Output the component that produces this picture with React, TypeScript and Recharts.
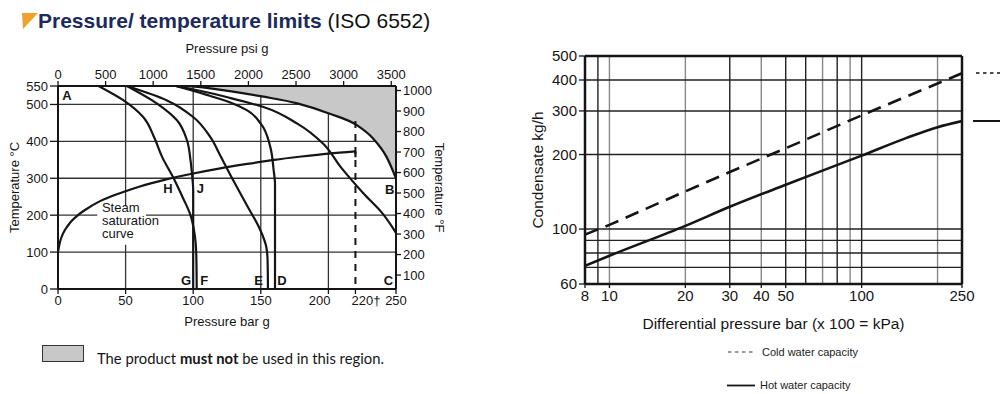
import React from 'react';
import {
  ComposedChart,
  LineChart,
  Line,
  Area,
  XAxis,
  YAxis,
  CartesianGrid,
  ReferenceLine,
  ReferenceDot,
  ReferenceArea,
  Label,
} from 'recharts';

// ---- left chart: pressure (bar g) vs temperature (°C) ----
const barTicks = [0, 50, 100, 150, 200, 220, 250];
const psiTicks = [0, 500, 1000, 1500, 2000, 2500, 3000, 3500];
const psiSpan = [{ psi: 0, c: 550 }, { psi: 3550, c: 550 }];
const degCTicks = [0, 100, 200, 300, 400, 500, 550];
const degFTicks = [100, 200, 300, 400, 500, 600, 700, 800, 900, 1000];
const barGrid = [50, 100, 150, 200];
const degCGrid = [100, 200, 300, 400, 500];

const saturation = [
  { bar: 0, c: 100 }, { bar: 1, c: 120 }, { bar: 2, c: 134 }, { bar: 3, c: 144 },
  { bar: 5, c: 159 }, { bar: 7, c: 170 }, { bar: 10, c: 184 }, { bar: 15, c: 201 },
  { bar: 20, c: 214 }, { bar: 30, c: 236 }, { bar: 40, c: 252 }, { bar: 50, c: 265 },
  { bar: 60, c: 277 }, { bar: 80, c: 297 }, { bar: 100, c: 313 }, { bar: 120, c: 327 },
  { bar: 140, c: 339 }, { bar: 160, c: 350 }, { bar: 180, c: 359 }, { bar: 200, c: 367 },
  { bar: 220, c: 373 },
];
const saturationHook = [{ bar: 220, c: 373 }, { bar: 220, c: 357 }];

const curveH = [
  { bar: 30, c: 550 }, { bar: 48.5, c: 511 }, { bar: 63, c: 466 }, { bar: 71, c: 412 },
  { bar: 77, c: 358 }, { bar: 85.5, c: 300 }, { bar: 92, c: 250 }, { bar: 98, c: 200 },
  { bar: 101, c: 150 }, { bar: 102.3, c: 90 }, { bar: 102.6, c: 0 },
];
const curveJ = [
  { bar: 51, c: 550 }, { bar: 73, c: 503 }, { bar: 88, c: 457 }, { bar: 95.4, c: 403 },
  { bar: 98, c: 349 }, { bar: 99.3, c: 304 }, { bar: 100, c: 268 }, { bar: 100, c: 0 },
];
const curveE = [
  { bar: 51, c: 550 }, { bar: 80.6, c: 511 }, { bar: 100, c: 466 }, { bar: 112.6, c: 412 },
  { bar: 120, c: 362 }, { bar: 127, c: 312 }, { bar: 140, c: 225 }, { bar: 149.6, c: 160 },
  { bar: 154, c: 115 }, { bar: 155, c: 79 }, { bar: 155.3, c: 0 },
];
const curveD = [
  { bar: 87, c: 550 }, { bar: 110, c: 526 }, { bar: 127, c: 506 }, { bar: 140, c: 484 },
  { bar: 150, c: 448 }, { bar: 157, c: 385 }, { bar: 159.5, c: 322 }, { bar: 160.5, c: 285 },
  { bar: 160.5, c: 0 },
];
const curveC = [
  { bar: 87, c: 550 }, { bar: 110, c: 533 }, { bar: 127, c: 518 }, { bar: 152, c: 493 },
  { bar: 177, c: 448 }, { bar: 196, c: 394 }, { bar: 209, c: 331 }, { bar: 226, c: 259 },
  { bar: 240, c: 205 }, { bar: 250, c: 152 },
];
const greyEdge = [
  { bar: 94, c: 550 }, { bar: 110, c: 545 }, { bar: 127, c: 536 }, { bar: 152, c: 521 },
  { bar: 177, c: 503 }, { bar: 201, c: 475 }, { bar: 221, c: 444 }, { bar: 233, c: 408 },
  { bar: 243, c: 358 }, { bar: 250, c: 300 },
];
const limit220 = [{ bar: 220, c: 455 }, { bar: 220, c: 0 }];

const curveLetters = [
  { bar: 6.6, c: 525, text: 'A' },
  { bar: 245.3, c: 270, text: 'B' },
  { bar: 244.5, c: 23, text: 'C' },
  { bar: 165.7, c: 23, text: 'D' },
  { bar: 148.4, c: 23, text: 'E' },
  { bar: 108.2, c: 23, text: 'F' },
  { bar: 94.7, c: 23, text: 'G' },
  { bar: 81.4, c: 271, text: 'H' },
  { bar: 105.3, c: 271, text: 'J' },
];
const steamNote = ['Steam', 'saturation', 'curve'];

// ---- right chart: capacity ----
const dpTicks = [8, 10, 20, 30, 40, 50, 100, 250];
const kghTicks = [60, 100, 200, 300, 400, 500];
const dpGridDark = [9, 30, 50, 60, 80, 100];
const dpGridLight = [10, 20, 40, 70, 90, 200];
const kghGrid = [70, 80, 90, 100, 200, 300, 400];

const coldWater = [
  { p: 8, q: 95 }, { p: 10, q: 104 }, { p: 20, q: 142 }, { p: 30, q: 170 },
  { p: 50, q: 212 }, { p: 100, q: 288 }, { p: 250, q: 426 },
];
const hotWater = [
  { p: 8, q: 71 }, { p: 10, q: 78 }, { p: 20, q: 103 }, { p: 30, q: 123 },
  { p: 50, q: 151 }, { p: 100, q: 198 }, { p: 150, q: 233 }, { p: 200, q: 258 },
  { p: 250, q: 273 },
];

const ink = '#151515';
const font = '"Liberation Sans", Arial, sans-serif';

const BarTick = (props: any) => {
  const { x, y, payload } = props;
  const v = payload.value;
  const anchor = v === 200 ? 'end' : v === 220 ? 'start' : 'middle';
  const dx = v === 200 ? 2 : v === 220 ? -4 : 0;
  return (
    <text x={x + dx} y={y} dy="0.71em" textAnchor={anchor} fontSize={13} fill={ink}>
      {v === 220 ? '220\u2020' : v}
    </text>
  );
};

const letterShape = (text: string) => (p: any) => (
  <text x={p.cx} y={p.cy} textAnchor="middle" dominantBaseline="central" fontSize={13} fontWeight={700} fill={ink}>
    {text}
  </text>
);

const noteShape = (p: any) => (
  <text x={p.cx} y={p.cy} fontSize={13} fill={ink}>
    {steamNote.map((s, i) => (
      <tspan key={s} x={p.cx} dy={i === 0 ? 0 : 13}>{s}</tspan>
    ))}
  </text>
);

function LimitsChart() {
  const curve = { stroke: ink, strokeWidth: 2.2, dot: false, isAnimationActive: false, activeDot: false } as const;
  return (
    <ComposedChart width={460} height={340} data={greyEdge} margin={{ top: 56, right: 14, bottom: 5, left: 0 }}>
      <CartesianGrid stroke="#333" strokeWidth={1.3} verticalValues={barGrid} horizontalValues={degCGrid} />
      <XAxis dataKey="bar" type="number" domain={[0, 250]} ticks={barTicks} interval={0} allowDataOverflow
        height={46} tickSize={5} tickMargin={2} tick={<BarTick />}
        axisLine={{ stroke: ink, strokeWidth: 2 }} tickLine={{ stroke: ink, strokeWidth: 1.3 }}>
        <Label value="Pressure bar g" position="insideBottom" offset={9} fontSize={13} fill={ink} />
      </XAxis>
      <XAxis xAxisId="psi" dataKey="psi" orientation="top" type="number" domain={[0, 3550]} ticks={psiTicks}
        interval={0} allowDataOverflow height={30} tickSize={5} tickMargin={2} tick={{ fontSize: 13, fill: ink }}
        axisLine={{ stroke: ink, strokeWidth: 2 }} tickLine={{ stroke: ink, strokeWidth: 1.3 }}>
        <Label value="Pressure psi g" position="top" offset={3} fontSize={13} fill={ink} />
      </XAxis>
      <YAxis type="number" domain={[0, 550]} ticks={degCTicks} interval={0} allowDataOverflow width={58}
        tickSize={8} tickMargin={2} tick={{ fontSize: 13, fill: ink }}
        axisLine={{ stroke: ink, strokeWidth: 2 }} tickLine={{ stroke: ink, strokeWidth: 1.3 }}>
        <Label value="Temperature °C" angle={-90} position="insideLeft" offset={14} fontSize={13} fill={ink}
          style={{ textAnchor: 'middle' }} />
      </YAxis>
      <YAxis yAxisId="f" orientation="right" type="number" domain={[32, 1022]} ticks={degFTicks} interval={0}
        allowDataOverflow width={50} tickSize={5} tickMargin={2} tick={{ fontSize: 13, fill: ink }}
        axisLine={{ stroke: ink, strokeWidth: 2 }} tickLine={{ stroke: ink, strokeWidth: 1.3 }}>
        <Label value="Temperature °F" angle={90} position="insideRight" offset={6} fontSize={13} fill={ink}
          style={{ textAnchor: 'middle' }} />
      </YAxis>
      <Area dataKey={(d: any) => [d.c, 550]} type="monotoneX" fill="#c8c8c8" fillOpacity={1} stroke="none"
        isAnimationActive={false} activeDot={false} />
      <ReferenceArea x1={29} x2={65} y1={120} y2={224} fill="#fff" fillOpacity={1} stroke="none" />
      <Line xAxisId="psi" data={psiSpan} dataKey="c" stroke="none" dot={false} activeDot={false} isAnimationActive={false} />
      <Line data={greyEdge} dataKey="c" type="monotoneX" {...curve} />
      <Line data={saturation} dataKey="c" type="monotoneX" {...curve} />
      <Line data={saturationHook} dataKey="c" type="linear" {...curve} />
      <Line data={curveH} dataKey="c" type="monotoneY" {...curve} />
      <Line data={curveJ} dataKey="c" type="monotoneY" {...curve} />
      <Line data={curveE} dataKey="c" type="monotoneY" {...curve} />
      <Line data={curveD} dataKey="c" type="monotoneY" {...curve} />
      <Line data={curveC} dataKey="c" type="monotoneY" {...curve} />
      <Line data={limit220} dataKey="c" type="linear" {...curve} strokeWidth={2} strokeDasharray="7 6" />
      {curveLetters.map((l) => (
        <ReferenceDot key={l.text} x={l.bar} y={l.c} r={0} shape={letterShape(l.text)} />
      ))}
      <ReferenceDot x={32.5} y={209} r={0} shape={noteShape} />
    </ComposedChart>
  );
}

function CapacityChart() {
  return (
    <LineChart width={520} height={340} margin={{ top: 56, right: 38, bottom: 6, left: 0 }}>
      <CartesianGrid stroke="#888" strokeWidth={1.4} verticalValues={dpGridLight} horizontal={false} />
      <CartesianGrid stroke="#222" strokeWidth={1.4} verticalValues={dpGridDark} horizontalValues={kghGrid} />
      <XAxis dataKey="p" type="number" scale="log" domain={[8, 250]} ticks={dpTicks} interval={0} allowDataOverflow
        height={50} tickSize={4} tickMargin={2} tick={{ fontSize: 15, fill: ink }}
        axisLine={{ stroke: ink, strokeWidth: 2.5 }} tickLine={{ stroke: ink, strokeWidth: 1.3 }}>
        <Label value="Differential pressure bar (x 100 = kPa)" position="insideBottom" offset={5} fontSize={15.5} fill={ink} />
      </XAxis>
      <YAxis dataKey="q" type="number" scale="log" domain={[60, 500]} ticks={kghTicks} interval={0} allowDataOverflow
        width={105} tickSize={6} tickMargin={2} tick={{ fontSize: 15, fill: ink }}
        axisLine={{ stroke: ink, strokeWidth: 2.5 }} tickLine={{ stroke: ink, strokeWidth: 1.3 }}>
        <Label value="Condensate kg/h" angle={-90} position="insideLeft" offset={57} fontSize={15.5} fill={ink}
          style={{ textAnchor: 'middle' }} />
      </YAxis>
      <ReferenceLine y={500} stroke={ink} strokeWidth={2.5} />
      <ReferenceLine x={250} stroke={ink} strokeWidth={2.5} />
      <Line data={coldWater} dataKey="q" type="linear" stroke={ink} strokeWidth={2.6} strokeDasharray="14 8"
        dot={false} activeDot={false} isAnimationActive={false} />
      <Line data={hotWater} dataKey="q" type="monotone" stroke={ink} strokeWidth={2.6}
        dot={false} activeDot={false} isAnimationActive={false} />
    </LineChart>
  );
}

export default function App() {
  return (
    <div style={{ position: 'absolute', left: 0, top: 0, width: 1000, height: 394, background: '#fff', overflow: 'hidden', fontFamily: font, color: ink }}>
      <svg width={20} height={20} style={{ position: 'absolute', left: 21, top: 12 }}>
        <polygon points="1,1 17,1 2,17" fill="#f0a02c" />
      </svg>
      <div style={{ position: 'absolute', left: 38, top: 8, fontSize: 21, lineHeight: '26px', whiteSpace: 'nowrap' }}>
        <span style={{ fontWeight: 700, color: '#1c2a5c' }}>Pressure/ temperature limits</span>
        <span style={{ color: '#111' }}> (ISO 6552)</span>
      </div>

      <div style={{ position: 'absolute', left: 0, top: 0 }}>
        <LimitsChart />
      </div>

      <div style={{ position: 'absolute', left: 42, top: 345, width: 40, height: 15, background: '#c8c8c8', border: '1.5px solid #333' }} />
      <div style={{ position: 'absolute', left: 97, top: 349, fontFamily: 'Lato, "Open Sans", sans-serif', fontSize: 14.8, whiteSpace: 'nowrap' }}>
        The product <b>must not</b> be used in this region.
      </div>

      <div style={{ position: 'absolute', left: 480, top: 0 }}>
        <CapacityChart />
      </div>

      <svg width={1000} height={394} style={{ position: 'absolute', left: 0, top: 0, pointerEvents: 'none' }}>
        <line x1={976} x2={1000} y1={73} y2={73} stroke={ink} strokeWidth={1.3} strokeDasharray="3.5 3.5" />
        <line x1={973} x2={1000} y1={121} y2={121} stroke={ink} strokeWidth={2} />
        <line x1={728} x2={753} y1={352} y2={352} stroke="#333" strokeWidth={1.2} strokeDasharray="3.5 3.5" />
        <text x={762} y={356} fontSize={11} fill="#222">Cold water capacity</text>
        <line x1={727} x2={755} y1={385.5} y2={385.5} stroke={ink} strokeWidth={1.8} />
        <text x={760} y={389} fontSize={11} fill="#222">Hot water capacity</text>
      </svg>
    </div>
  );
}
